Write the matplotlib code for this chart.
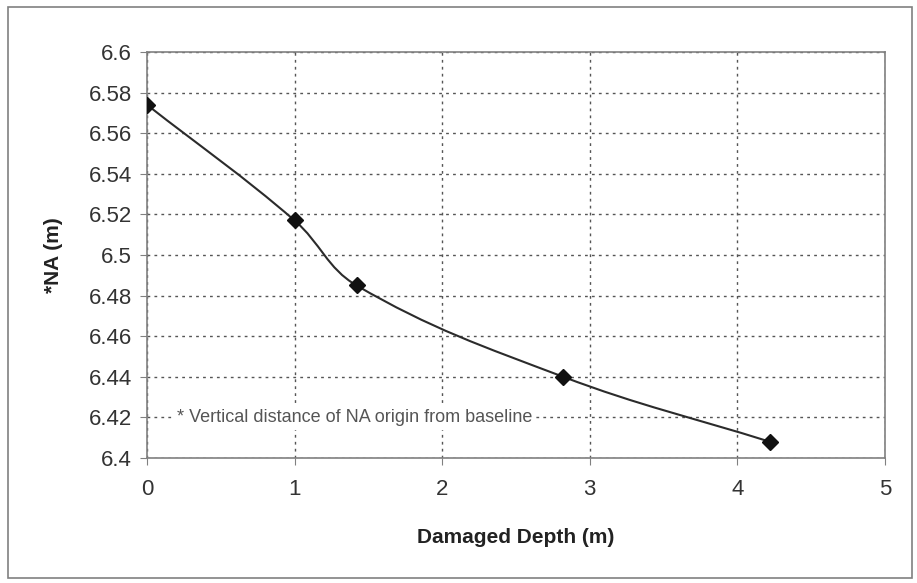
import matplotlib
matplotlib.use("Agg")
import matplotlib.pyplot as plt
from matplotlib.path import Path
from matplotlib.patches import PathPatch, Rectangle
import numpy as np

plt.rcParams['font.family'] = ['Liberation Sans', 'DejaVu Sans']

# Neutral axis position versus damaged depth
depth = [0.0, 1.0, 1.42, 2.82, 4.22]
na_height = [6.574, 6.517, 6.485, 6.440, 6.408]

x_ticks = [0, 1, 2, 3, 4, 5]
y_ticks = [6.4, 6.42, 6.44, 6.46, 6.48, 6.5, 6.52, 6.54, 6.56, 6.58, 6.6]
y_tick_labels = ["6.4", "6.42", "6.44", "6.46", "6.48", "6.5", "6.52",
                 "6.54", "6.56", "6.58", "6.6"]

fig = plt.figure(figsize=(9.17, 5.83), dpi=100)
ax = fig.add_axes([0.1603, 0.2144, 0.8048, 0.6964])
ax.set_xlim(0, 5)
ax.set_ylim(6.4, 6.6)

# Smoothed connecting line: cubic Bezier segments whose tangents follow the
# neighbouring points, with handle lengths proportional to each segment
# (handles sized in screen space so the curve does not overshoot)
fig.canvas.draw()
pts = np.column_stack([depth, na_height])
disp = ax.transData.transform(pts)
inv = ax.transData.inverted()
verts = [tuple(pts[0])]
codes = [Path.MOVETO]
n = len(pts)
for i in range(n - 1):
    a = disp[max(i - 1, 0)]
    b = disp[i]
    c = disp[i + 1]
    d = disp[min(i + 2, n - 1)]
    seg = np.linalg.norm(c - b)
    t0 = c - a
    t1 = d - b
    c1 = b + t0 / np.linalg.norm(t0) * seg * 0.38
    c2 = c - t1 / np.linalg.norm(t1) * seg * 0.38
    verts += [tuple(inv.transform(c1)), tuple(inv.transform(c2)), tuple(pts[i + 1])]
    codes += [Path.CURVE4, Path.CURVE4, Path.CURVE4]
ax.add_patch(PathPatch(Path(verts, codes), facecolor='none',
                       edgecolor='#2b2b2b', lw=1.5, zorder=3))

ax.plot(depth, na_height, linestyle='none', marker='D', markersize=8,
        color='#111111', zorder=4)

ax.set_xticks(x_ticks)
ax.set_yticks(y_ticks)
ax.set_yticklabels(y_tick_labels)

ax.grid(True, color='#555555', linestyle=(0, (2, 3)), linewidth=1.0)
ax.set_axisbelow(True)

for side in ['left', 'bottom', 'right', 'top']:
    ax.spines[side].set_color('#808080')
    ax.spines[side].set_linewidth(1.2)

ax.tick_params(axis='both', colors='#808080', labelcolor='#333333',
               labelsize=16, length=5)
ax.tick_params(axis='x', pad=10)
ax.tick_params(axis='y', pad=6)

ax.set_xlabel("Damaged Depth (m)", fontsize=15, fontweight='bold',
              color='#222222', labelpad=20)
ax.set_ylabel("*NA (m)", fontsize=15, fontweight='bold',
              color='#222222', labelpad=18)

ax.text(0.2, 6.4198, "* Vertical distance of NA origin from baseline",
        fontsize=13, color='#555555', va='center', ha='left',
        bbox=dict(facecolor='white', edgecolor='none', pad=3), zorder=2)

fig.patches.append(Rectangle((8 / 917, 5 / 583), 904 / 917, 571 / 583,
                             transform=fig.transFigure, fill=False,
                             edgecolor='#808080', linewidth=1.2))

fig.savefig("out.png", dpi=100)
